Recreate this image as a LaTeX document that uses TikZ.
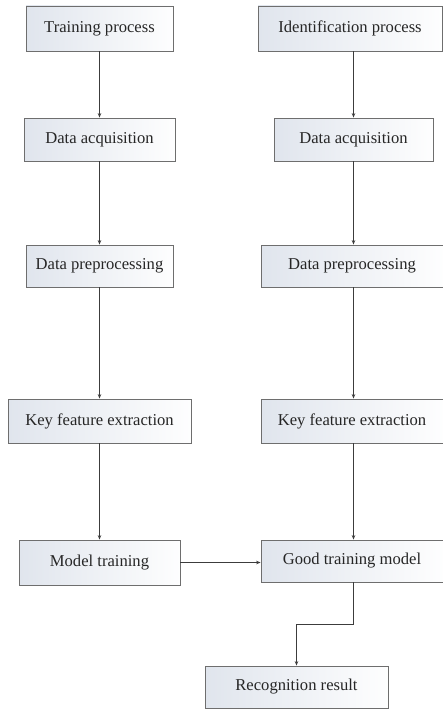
\documentclass[tikz,border=0pt]{standalone}
\usepackage{fontspec}
\setmainfont{Liberation Serif}
\usepackage{xcolor}
\usetikzlibrary{arrows.meta, positioning}

\definecolor{boxfill}{RGB}{224,229,237}
\definecolor{boxline}{RGB}{110,110,110}
\definecolor{arrline}{RGB}{60,60,60}

\begin{document}
\begin{tikzpicture}[
    x=1pt, y=1pt,
    font=\fontsize{16.6}{19}\selectfont,
    stepbox/.style={draw=boxline, line width=0.8pt, left color=boxfill, right color=white!96!boxfill, inner sep=0pt, text=black!85},
    flow/.style={draw=arrline, line width=0.7pt, -{Stealth[length=4.5pt, width=3.5pt]}}
]
    \useasboundingbox (0,0) rectangle (443,-709);

    % Training side
    \node[stepbox, minimum width=147, minimum height=45] (train) at (99.5,-28.5) {Training process};
    \node[stepbox, minimum width=151, minimum height=43] (acq1) at (99.5,-139.5) {Data acquisition};
    \node[stepbox, minimum width=147, minimum height=42] (pre1) at (99.5,-266) {Data preprocessing};
    \node[stepbox, minimum width=183, minimum height=44] (key1) at (99.5,-421) {Key feature extraction};
    \node[stepbox, minimum width=161, minimum height=45] (model) at (99.5,-562.5) {Model training};

    % Identification side
    \node[stepbox, minimum width=184, minimum height=45] (ident) at (350,-28.5) {Identification process};
    \node[stepbox, minimum width=159, minimum height=43] (acq2) at (353.5,-139.5) {Data acquisition};
    \node[stepbox, minimum width=182, minimum height=42] (pre2) at (352,-266) {Data preprocessing};
    \node[stepbox, minimum width=182, minimum height=44] (key2) at (352,-421) {Key feature extraction};
    \node[stepbox, minimum width=182, minimum height=42] (good) at (352,-561) {Good training model};
    \node[stepbox, minimum width=183, minimum height=42] (result) at (296.5,-687) {Recognition result};

    % Arrows
    \draw[flow] (train) -- (acq1);
    \draw[flow] (acq1) -- (pre1);
    \draw[flow] (pre1) -- (key1);
    \draw[flow] (key1) -- (model);
    \draw[flow] (acq2.north |- ident.south) -- (acq2.north);
    \draw[flow] (acq2.south) -- (acq2.south |- pre2.north);
    \draw[flow] (acq2.south |- pre2.south) -- (acq2.south |- key2.north);
    \draw[flow] (acq2.south |- key2.south) -- (acq2.south |- good.north);
    \draw[flow] (model.east) -- (model.east -| good.west);
    \draw[flow] (acq2.south |- good.south) -- ++(0,-42) -| (result.north);
\end{tikzpicture}
\end{document}
